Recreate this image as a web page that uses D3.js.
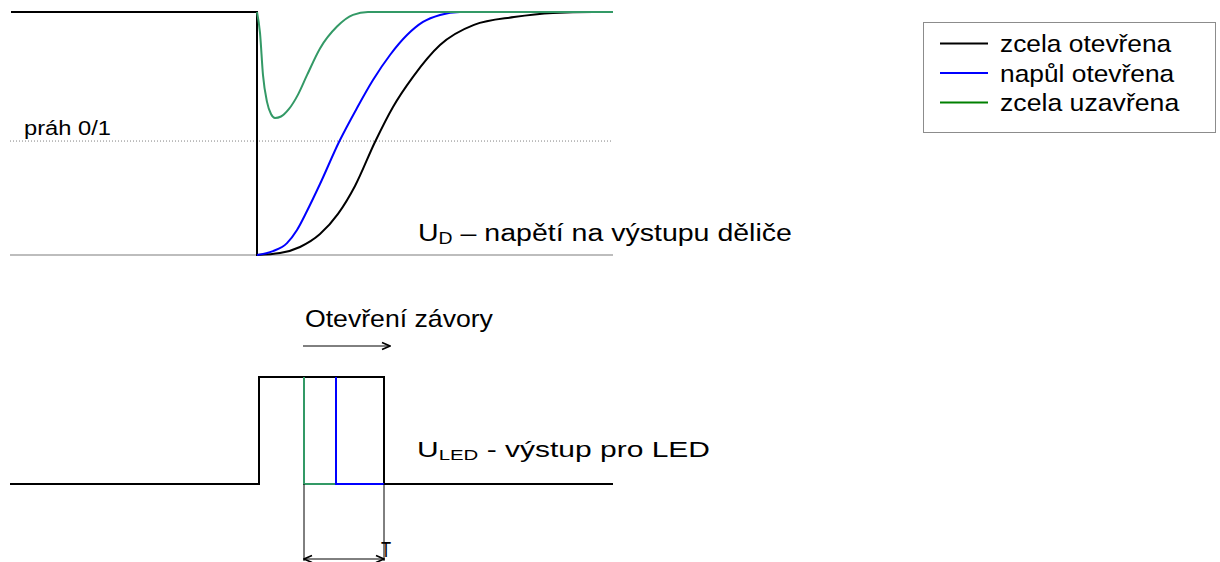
<!DOCTYPE html>
<html>
<head>
<meta charset="utf-8">
<script src="https://cdn.jsdelivr.net/npm/d3@7"></script>
<style>
  html, body { margin: 0; padding: 0; background: #fff; }
  svg { display: block; }
  text { font-family: "Liberation Sans", Arial, sans-serif; fill: #000; }
</style>
</head>
<body>
<script>
// Divider output U_D after the barrier opens: time (t) and normalised voltage (v)
const openT  = [1, 247, 247, 270, 290, 310, 328, 345, 365, 383, 403, 430, 464, 504, 543, 583, 603];
const openV  = [1, 1, 0, 0.008, 0.033, 0.086, 0.169, 0.284, 0.465, 0.609, 0.733, 0.864, 0.947, 0.979, 0.996, 1, 1];
const halfT  = [247, 263, 277, 287, 297, 310, 329, 347, 363, 380, 397, 413, 430, 450, 603];
const halfV  = [0, 0.016, 0.049, 0.103, 0.181, 0.292, 0.465, 0.605, 0.720, 0.823, 0.905, 0.959, 0.988, 1, 1];
const closedT = [247, 250, 253, 257, 261, 265, 271, 279, 288, 297, 310, 327, 343, 358, 603];
const closedV = [1, 0.914, 0.740, 0.630, 0.580, 0.564, 0.570, 0.601, 0.660, 0.740, 0.850, 0.940, 0.988, 1, 1];
const threshold = 0.469;

// LED output (logic level) for each barrier state
const ledOpenT   = [0, 249, 249, 374, 374, 603];
const ledOpenV   = [0, 0, 1, 1, 0, 0];
const ledHalfT   = [326, 326, 374];
const ledHalfV   = [1, 0, 0];
const ledClosedT = [294, 294, 326];
const ledClosedV = [1, 0, 0];
const periodT = [294, 374];
const arrowT  = [293, 380];

const seriesNames  = ["zcela otevřena", "napůl otevřena", "zcela uzavřena"];
const seriesColors = ["#000000", "#0000ff", "#008000"];
const curveGreen = "#339966";

const W = 1220, H = 562;
const svg = d3.select("body").append("svg").attr("width", W).attr("height", H);

const defs = svg.append("defs");
defs.append("marker").attr("id", "arr").attr("viewBox", "0 0 10 10")
  .attr("refX", 9).attr("refY", 5).attr("markerWidth", 10).attr("markerHeight", 10)
  .attr("markerUnits", "userSpaceOnUse").attr("orient", "auto-start-reverse")
  .append("path").attr("d", "M1,1.5 L9,5 L1,8.5").attr("fill", "none")
  .attr("stroke", "#000").attr("stroke-width", 1.6);

const x = d3.scaleLinear().domain([0, 603]).range([10, 613]);
const yTop = d3.scaleLinear().domain([0, 1]).range([255, 12]);
const yLed = d3.scaleLinear().domain([0, 1]).range([484, 377]);

const zip = (a, b) => a.map((d, i) => [d, b[i]]);

// upper panel: baseline and threshold
svg.append("line").attr("x1", x(0)).attr("x2", x(603)).attr("y1", yTop(0)).attr("y2", yTop(0))
  .attr("stroke", "#bdbdbd").attr("stroke-width", 2);
svg.append("line").attr("x1", x(0)).attr("x2", x(603)).attr("y1", yTop(threshold)).attr("y2", yTop(threshold))
  .attr("stroke", "#808080").attr("stroke-width", 1).attr("stroke-dasharray", "1,2");

const smooth = d3.line().x(d => x(d[0])).y(d => yTop(d[1])).curve(d3.curveMonotoneX);
const straightTop = d3.line().x(d => x(d[0])).y(d => yTop(d[1]));

// black curve: flat level, vertical drop, then smooth rise
const openPts = zip(openT, openV);
svg.append("path").attr("d", straightTop(openPts.slice(0, 3)) + smooth(openPts.slice(2)).replace(/^M/, "L"))
  .attr("fill", "none").attr("stroke", seriesColors[0]).attr("stroke-width", 2);
svg.append("path").attr("d", smooth(zip(halfT, halfV)))
  .attr("fill", "none").attr("stroke", seriesColors[1]).attr("stroke-width", 2);
svg.append("path").attr("d", smooth(zip(closedT, closedV)))
  .attr("fill", "none").attr("stroke", curveGreen).attr("stroke-width", 2);

// text placed at (px, py) and stretched horizontally to span the given width
function label(px, py, size, width, build) {
  const t = svg.append("text").attr("font-size", size).attr("transform", `translate(${px},${py})`);
  build(t);
  const w = t.node().getBBox().width;
  t.attr("transform", `translate(${px},${py}) scale(${width / w},1)`);
  return t;
}
function withSub(main, sub, rest) {
  return t => {
    t.append("tspan").text(main);
    t.append("tspan").attr("font-size", "0.68em").attr("dy", 3).text(sub);
    t.append("tspan").attr("dy", -3).text(rest);
  };
}

label(24, 135, 21, 87, t => t.text("práh 0/1"));
label(418, 241, 23, 374, withSub("U", "D", " – napětí na výstupu děliče"));
label(305, 327, 24, 188, t => t.text("Otevření závory"));
label(417, 457, 22, 293, withSub("U", "LED", " - výstup pro LED"));

svg.append("line").attr("x1", x(arrowT[0])).attr("x2", x(arrowT[1])).attr("y1", 346).attr("y2", 346)
  .attr("stroke", "#000").attr("stroke-width", 1).attr("marker-end", "url(#arr)");

// lower panel: LED output pulses
const step = d3.line().x(d => x(d[0])).y(d => yLed(d[1]));
svg.append("path").attr("d", step(zip(ledOpenT, ledOpenV)))
  .attr("fill", "none").attr("stroke", seriesColors[0]).attr("stroke-width", 2);
svg.append("path").attr("d", step(zip(ledClosedT, ledClosedV)))
  .attr("fill", "none").attr("stroke", curveGreen).attr("stroke-width", 2);
svg.append("path").attr("d", step(zip(ledHalfT, ledHalfV)))
  .attr("fill", "none").attr("stroke", seriesColors[1]).attr("stroke-width", 2);

// period dimension
periodT.forEach(t => {
  svg.append("line").attr("x1", x(t)).attr("x2", x(t)).attr("y1", yLed(0)).attr("y2", 561)
    .attr("stroke", "#000").attr("stroke-width", 1);
});
svg.append("line").attr("x1", x(periodT[0])).attr("x2", x(periodT[1])).attr("y1", 559).attr("y2", 559)
  .attr("stroke", "#000").attr("stroke-width", 1)
  .attr("marker-start", "url(#arr)").attr("marker-end", "url(#arr)");
svg.append("text").attr("transform", `translate(${x(periodT[1]) - 3},557) scale(0.75,1)`)
  .attr("font-size", 22).text("T");

// legend
const lg = svg.append("g");
lg.append("rect").attr("x", 923.5).attr("y", 22.5).attr("width", 292).attr("height", 110)
  .attr("fill", "#fff").attr("stroke", "#8c8c8c").attr("stroke-width", 1);
const legendWidths = [172, 175, 180];
seriesNames.forEach((name, i) => {
  const cy = 43.5 + i * 29.5;
  lg.append("line").attr("x1", 940).attr("x2", 988).attr("y1", cy).attr("y2", cy)
    .attr("stroke", seriesColors[i]).attr("stroke-width", 2);
  label(1000, cy + 8.5, 24, legendWidths[i], t => t.text(name));
});
</script>
</body>
</html>
